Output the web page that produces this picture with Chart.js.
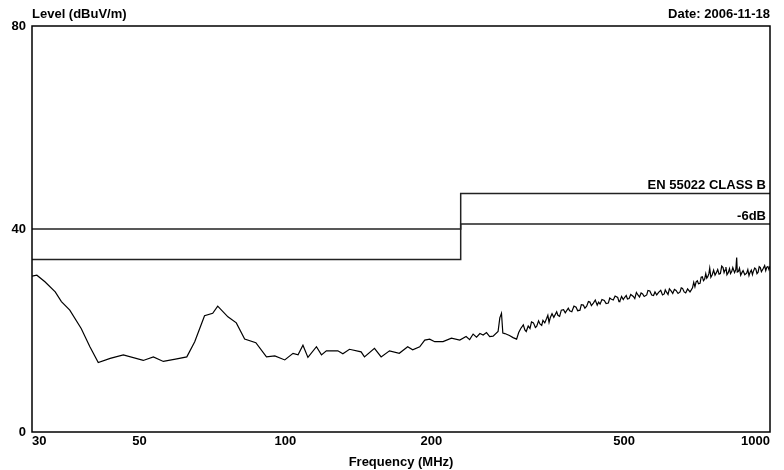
<!DOCTYPE html>
<html>
<head>
<meta charset="utf-8">
<script src="https://cdn.jsdelivr.net/npm/chart.js@4.4.1/dist/chart.umd.min.js"></script>
<style>
  html, body { margin: 0; padding: 0; background: #fff; }
  #wrap { width: 784px; height: 470px; position: relative; }
</style>
</head>
<body>
<div id="wrap"><canvas id="emiChart"></canvas></div>
<script>
const freq = [30, 30.7, 31.9, 33.5, 34.5, 35.9, 37.9, 39.5, 41.1, 43.5, 46.3, 50.9, 53.4, 56.0, 59.7,
  62.6, 65.0, 68.1, 70.8, 72.5, 76.1, 79.2, 82.4, 86.9, 91.4, 95.1, 99.7, 103.7, 106.2, 108.7,
  111.3, 115.9, 118.7, 121.5, 128.3, 131.4, 135.6, 143.3, 145.6, 152.7, 157.6, 164.0, 171.8, 178.8,
  183.1, 189.3, 193.9, 198.5, 203.3, 211.5, 220.1, 229.0, 236, 240, 244, 248, 252, 255.9, 260, 264,
  268.3, 274.7, 277, 279.2, 281, 283.7, 290, 295,
  300, 303, 306, 309.7, 312, 314, 317, 319.7, 322, 325, 328, 330, 333, 335.2, 338, 340, 343, 346.1,
  348, 350, 352, 355, 358, 362.9, 365, 368, 371, 375, 378, 383.5, 386, 390, 394, 398, 401, 405.4,
  408, 412, 415, 418.5, 422, 425, 428, 432, 436, 440, 443, 446, 450, 455, 459, 463.9, 467, 470,
  474.9, 479, 485, 488, 490, 494, 498, 501, 505, 508, 512, 516, 522.4, 526, 530, 534, 538, 542,
  546, 550, 556.7, 560, 565, 570, 575, 579, 583.8, 589, 595, 600, 605, 608, 612.2, 616, 620, 625,
  630, 635, 640, 646, 652.2, 656, 660, 665, 670, 676, 683.8, 688, 692, 696, 700, 704, 708, 712,
  717.2, 721, 725, 729, 733, 737, 740.4, 744, 748, 751, 755, 760, 765, 770.1, 775, 780, 785, 790,
  795, 800, 804, 807.6, 811, 815, 820, 825, 829, 833.6, 838, 845, 850, 853.6, 856, 860.1, 865, 870,
  875, 880, 887, 895, 900, 905, 910, 915, 920, 923.6, 930, 935, 940, 945, 950, 955, 960, 968.4,
  975, 980, 985, 990, 995, 1000];
const level = [30.7, 30.9, 29.6, 27.6, 25.7, 24.0, 20.4, 16.8, 13.7, 14.5, 15.2, 14.1, 14.8, 13.9, 14.4,
  14.8, 17.8, 22.9, 23.4, 24.8, 22.7, 21.5, 18.3, 17.6, 14.8, 15.0, 14.2, 15.5, 15.2, 17.1,
  14.7, 16.8, 15.2, 16.0, 16.0, 15.4, 16.3, 15.8, 14.8, 16.5, 14.8, 16.0, 15.5, 16.8,
  16.2, 16.8, 18.1, 18.3, 17.8, 17.8, 18.5, 18.1, 18.8, 18.2, 19.3, 18.7, 19.4, 19.1, 19.6, 18.8,
  18.9, 19.8, 22.5, 23.4, 19.5, 19.4, 19.0, 18.6,
  18.3, 19.6, 20.4, 21.1, 20.1, 19.8, 20.9, 20.4, 21.7, 21.5, 20.6, 20.8, 21.9, 21.3, 21.0, 22.0, 21.5, 22.4,
  23.0, 21.6, 22.5, 23.3, 22.6, 23.7, 23.0, 22.8, 24.0, 24.1, 23.5, 24.4, 23.9, 23.7, 24.8, 24.6, 23.9, 24.0,
  25.1, 25.0, 24.4, 24.8, 25.7, 25.6, 24.9, 25.4, 26.0, 25.0, 25.6, 25.2, 26.1, 25.9, 25.3, 25.4, 26.4, 26.2,
  26.0, 26.8, 26.5, 25.7, 25.8, 26.7, 26.1, 26.5, 26.9, 26.2, 26.3, 27.1, 26.7, 26.3, 27.5, 27.0, 26.6, 27.4,
  27.2, 26.7, 27.0, 27.9, 27.8, 27.0, 26.9, 27.6, 27.0, 27.5, 27.9, 27.0, 27.2, 28.0, 27.5, 27.1, 28.2, 27.8,
  27.3, 28.1, 27.9, 27.3, 27.6, 28.4, 28.3, 27.6, 27.4, 28.2, 27.6, 28.0, 28.4, 29.5, 28.6, 29.6, 29.8, 29.2,
  29.3, 30.5, 30.6, 29.8, 30.1, 31.2, 30.3, 30.6, 31.2, 32.3, 30.5, 31.0, 31.9, 30.9, 31.4, 32.0, 31.1, 31.2,
  32.7, 32.4, 31.4, 31.9, 32.5, 31.0, 31.4, 32.2, 31.2, 31.6, 32.4, 31.4, 32.0, 34.4, 31.5, 31.6, 32.3, 30.9,
  31.4, 31.8, 31.0, 31.3, 32.0, 30.8, 31.5, 31.9, 31.0, 31.6, 32.3, 32.1, 31.2, 31.5, 32.6, 32.4, 31.6, 32.2,
  32.8, 31.8, 32.5, 32.6, 32.0, 32.7];

// EN 55022 class B limit and the -6 dB margin
const limitFreq = [30, 230, 230, 1000];
const classB = [40, 40, 47, 47];
const minus6 = [34, 34, 41, 41];

const xTicks = [30, 50, 100, 200, 500, 1000];
const yTicks = [0, 40, 80];

const FONT = 'Liberation Sans, Arial, sans-serif';
Chart.defaults.font.family = FONT;
Chart.defaults.font.size = 13;
Chart.defaults.font.weight = 'bold';
Chart.defaults.color = '#000';

const toPoints = (xs, ys) => xs.map((x, i) => ({ x: x, y: ys[i] }));

// frame, header texts and limit captions
const decor = {
  id: 'decor',
  afterDatasetsDraw(chart) {
    const { ctx, chartArea: a, scales } = chart;
    ctx.save();
    ctx.strokeStyle = '#000';
    ctx.lineWidth = 1.5;
    ctx.strokeRect(a.left, a.top, a.right - a.left, a.bottom - a.top);
    ctx.fillStyle = '#000';
    ctx.font = 'bold 13px ' + FONT;
    ctx.textBaseline = 'alphabetic';
    ctx.textAlign = 'left';
    ctx.fillText('Level (dBuV/m)', a.left, 18);
    ctx.textAlign = 'right';
    ctx.fillText('Date: 2006-11-18', a.right, 18);
    ctx.fillText('EN 55022 CLASS B', a.right - 4, scales.y.getPixelForValue(classB[3]) - 4);
    ctx.fillText('-6dB', a.right - 4, scales.y.getPixelForValue(minus6[3]) - 4);
    ctx.restore();
  }
};

new Chart(document.getElementById('emiChart'), {
  type: 'line',
  data: {
    datasets: [
      {
        label: 'Level',
        data: toPoints(freq, level),
        borderColor: '#000',
        borderWidth: 1.2,
        pointRadius: 0,
        tension: 0
      },
      {
        label: 'EN 55022 CLASS B',
        data: toPoints(limitFreq, classB),
        borderColor: '#222',
        borderWidth: 1.5,
        pointRadius: 0
      },
      {
        label: '-6dB',
        data: toPoints(limitFreq, minus6),
        borderColor: '#222',
        borderWidth: 1.5,
        pointRadius: 0
      }
    ]
  },
  options: {
    responsive: true,
    maintainAspectRatio: false,
    animation: false,
    layout: { padding: { top: 26, right: 14, left: 0, bottom: 0 } },
    plugins: {
      legend: { display: false },
      tooltip: { enabled: false }
    },
    scales: {
      x: {
        type: 'logarithmic',
        min: 30,
        max: 1000,
        grid: { display: false, drawTicks: false },
        border: { display: false },
        afterBuildTicks: (axis) => { axis.ticks = xTicks.map(v => ({ value: v })); },
        ticks: {
          autoSkip: false,
          maxRotation: 0,
          align: 'inner',
          padding: 2,
          callback: (v) => String(v)
        },
        title: {
          display: true,
          text: 'Frequency (MHz)',
          padding: { top: -2, bottom: 0 }
        },
        afterFit: (axis) => { axis.height = 38; }
      },
      y: {
        min: 0,
        max: 80,
        grid: { display: false, drawTicks: false },
        border: { display: false },
        afterBuildTicks: (axis) => { axis.ticks = yTicks.map(v => ({ value: v })); },
        ticks: { padding: 6 },
        afterFit: (axis) => { axis.width = 32; }
      }
    }
  },
  plugins: [decor]
});
</script>
</body>
</html>
